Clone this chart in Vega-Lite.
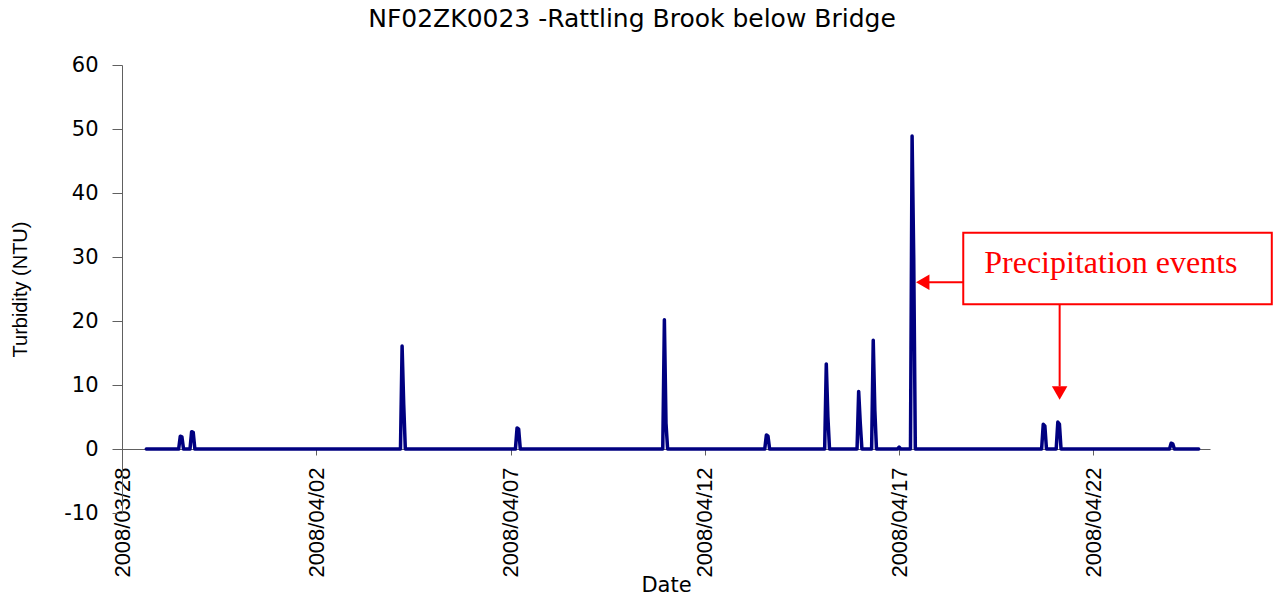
{
  "$schema": "https://vega.github.io/schema/vega-lite/v6.json",
  "width": 1088,
  "height": 448,
  "autosize": {"type": "none"},
  "padding": {"left": 122, "top": 65, "right": 63, "bottom": 84},
  "background": "white",
  "config": {
    "view": {"stroke": null},
    "font": "Liberation Sans"
  },
  "title": {
    "text": "NF02ZK0023 -Rattling Brook below Bridge",
    "font": "DejaVu Sans",
    "fontSize": 25,
    "fontWeight": "normal",
    "color": "black",
    "anchor": "middle",
    "frame": "group",
    "dx": -34,
    "offset": 22
  },
  "datasets": {
    "series": [
      {"t": "2008-03-28T15:00:00", "v": 0},
      {"t": "2008-03-29T11:00:00", "v": 0},
      {"t": "2008-03-29T12:00:00", "v": 2.0},
      {"t": "2008-03-29T13:00:00", "v": 1.9},
      {"t": "2008-03-29T14:00:00", "v": 0},
      {"t": "2008-03-29T18:00:00", "v": 0},
      {"t": "2008-03-29T19:00:00", "v": 2.7},
      {"t": "2008-03-29T20:00:00", "v": 2.6},
      {"t": "2008-03-29T21:00:00", "v": 0},
      {"t": "2008-04-04T04:00:00", "v": 0},
      {"t": "2008-04-04T05:00:00", "v": 16.1},
      {"t": "2008-04-04T06:00:00", "v": 7.0},
      {"t": "2008-04-04T07:00:00", "v": 0},
      {"t": "2008-04-07T03:00:00", "v": 0},
      {"t": "2008-04-07T04:00:00", "v": 3.3},
      {"t": "2008-04-07T05:00:00", "v": 3.1},
      {"t": "2008-04-07T06:00:00", "v": 0},
      {"t": "2008-04-10T22:00:00", "v": 0},
      {"t": "2008-04-10T23:00:00", "v": 20.2},
      {"t": "2008-04-11T00:00:00", "v": 4.0},
      {"t": "2008-04-11T01:00:00", "v": 0},
      {"t": "2008-04-13T13:00:00", "v": 0},
      {"t": "2008-04-13T14:00:00", "v": 2.2},
      {"t": "2008-04-13T15:00:00", "v": 2.0},
      {"t": "2008-04-13T16:00:00", "v": 0},
      {"t": "2008-04-15T02:00:00", "v": 0},
      {"t": "2008-04-15T03:00:00", "v": 13.3},
      {"t": "2008-04-15T04:00:00", "v": 5.0},
      {"t": "2008-04-15T05:00:00", "v": 0},
      {"t": "2008-04-15T22:00:00", "v": 0},
      {"t": "2008-04-15T23:00:00", "v": 9.0},
      {"t": "2008-04-16T00:00:00", "v": 4.0},
      {"t": "2008-04-16T01:00:00", "v": 0},
      {"t": "2008-04-16T07:00:00", "v": 0},
      {"t": "2008-04-16T08:00:00", "v": 17.0},
      {"t": "2008-04-16T09:00:00", "v": 6.0},
      {"t": "2008-04-16T10:00:00", "v": 0},
      {"t": "2008-04-16T23:00:00", "v": 0},
      {"t": "2008-04-17T00:00:00", "v": 0.3},
      {"t": "2008-04-17T01:00:00", "v": 0},
      {"t": "2008-04-17T07:00:00", "v": 0},
      {"t": "2008-04-17T08:00:00", "v": 48.9},
      {"t": "2008-04-17T09:00:00", "v": 30.0},
      {"t": "2008-04-17T10:00:00", "v": 0},
      {"t": "2008-04-20T16:00:00", "v": 0},
      {"t": "2008-04-20T17:00:00", "v": 3.85},
      {"t": "2008-04-20T18:00:00", "v": 3.6},
      {"t": "2008-04-20T19:00:00", "v": 0},
      {"t": "2008-04-21T01:00:00", "v": 0},
      {"t": "2008-04-21T02:00:00", "v": 4.2},
      {"t": "2008-04-21T03:00:00", "v": 3.9},
      {"t": "2008-04-21T04:00:00", "v": 0},
      {"t": "2008-04-23T23:00:00", "v": 0},
      {"t": "2008-04-24T00:00:00", "v": 0.9},
      {"t": "2008-04-24T01:00:00", "v": 0.8},
      {"t": "2008-04-24T02:00:00", "v": 0},
      {"t": "2008-04-24T17:00:00", "v": 0}
    ],
    "box": [
      {"x": "2008-04-18T15:36:00", "x2": "2008-04-26T14:10:00", "y": 33.8, "y2": 22.6}
    ],
    "label": [
      {"x": "2008-04-19T04:34:00", "y": 27.5, "text": "Precipitation events"}
    ],
    "arrows": [
      {"x": "2008-04-18T15:36:00", "x2": "2008-04-17T17:00:00", "y": 26.05, "y2": 26.05},
      {"x": "2008-04-21T03:08:00", "x2": "2008-04-21T03:08:00", "y": 22.6, "y2": 9.8}
    ],
    "heads": [
      {"x": "2008-04-17T14:33:00", "y": 26.05, "shape": "triangle-left"},
      {"x": "2008-04-21T03:08:00", "y": 8.75, "shape": "triangle-down"}
    ]
  },
  "layer": [
    {
      "data": {"name": "series"},
      "mark": {"type": "line", "color": "#000080", "strokeWidth": 3.5, "strokeJoin": "round", "strokeCap": "round"},
      "encoding": {
        "x": {
          "field": "t",
          "type": "temporal",
          "title": "Date",
          "scale": {"domain": [{"year": 2008, "month": 3, "date": 28}, {"year": 2008, "month": 4, "date": 25}], "nice": false},
          "axis": {
            "values": [
              {"year": 2008, "month": 3, "date": 28},
              {"year": 2008, "month": 4, "date": 2},
              {"year": 2008, "month": 4, "date": 7},
              {"year": 2008, "month": 4, "date": 12},
              {"year": 2008, "month": 4, "date": 17},
              {"year": 2008, "month": 4, "date": 22}
            ],
            "format": "%Y/%m/%d",
            "labelAngle": -90,
            "labelFontSize": 22,
            "labelColor": "black",
            "labelPadding": 12,
            "labelFlush": false,
            "labelOverlap": false,
            "offset": -64,
            "grid": false,
            "domainColor": "#606060",
            "tickColor": "#606060",
            "tickSize": 6,
            "titleFont": "DejaVu Sans",
            "titleFontSize": 21,
            "titleFontWeight": "normal",
            "titleColor": "black",
            "titlePadding": -3,
            "zindex": 0
          }
        },
        "y": {
          "field": "v",
          "type": "quantitative",
          "title": "Turbidity (NTU)",
          "scale": {"domain": [-10, 60], "nice": false, "zero": false},
          "axis": {
            "values": [-10, 0, 10, 20, 30, 40, 50, 60],
            "labelExpr": "datum.value + ''",
            "labelFont": "DejaVu Sans",
            "labelFontSize": 21,
            "labelColor": "black",
            "labelPadding": 14,
            "grid": false,
            "domainColor": "#606060",
            "tickColor": "#606060",
            "tickSize": 10,
            "titleFontSize": 20,
            "titleFontWeight": "normal",
            "titleColor": "black",
            "titlePadding": 33,
            "zindex": 0
          }
        }
      }
    },
    {
      "data": {"name": "box"},
      "mark": {"type": "rect", "fill": "white", "stroke": "#ff0000", "strokeWidth": 2},
      "encoding": {
        "x": {"field": "x", "type": "temporal"},
        "x2": {"field": "x2"},
        "y": {"field": "y", "type": "quantitative"},
        "y2": {"field": "y2"}
      }
    },
    {
      "data": {"name": "label"},
      "mark": {"type": "text", "font": "Liberation Serif", "fontSize": 32, "color": "#ff0000", "align": "left", "baseline": "alphabetic"},
      "encoding": {
        "x": {"field": "x", "type": "temporal"},
        "y": {"field": "y", "type": "quantitative"},
        "text": {"field": "text"}
      }
    },
    {
      "data": {"name": "arrows"},
      "mark": {"type": "rule", "color": "#ff0000", "strokeWidth": 2},
      "encoding": {
        "x": {"field": "x", "type": "temporal"},
        "x2": {"field": "x2"},
        "y": {"field": "y", "type": "quantitative"},
        "y2": {"field": "y2"}
      }
    },
    {
      "data": {"name": "heads"},
      "mark": {"type": "point", "filled": true, "color": "#ff0000", "opacity": 1, "size": 240, "strokeWidth": 0},
      "encoding": {
        "x": {"field": "x", "type": "temporal"},
        "y": {"field": "y", "type": "quantitative"},
        "shape": {"field": "shape", "type": "nominal", "scale": null, "legend": null}
      }
    }
  ]
}
